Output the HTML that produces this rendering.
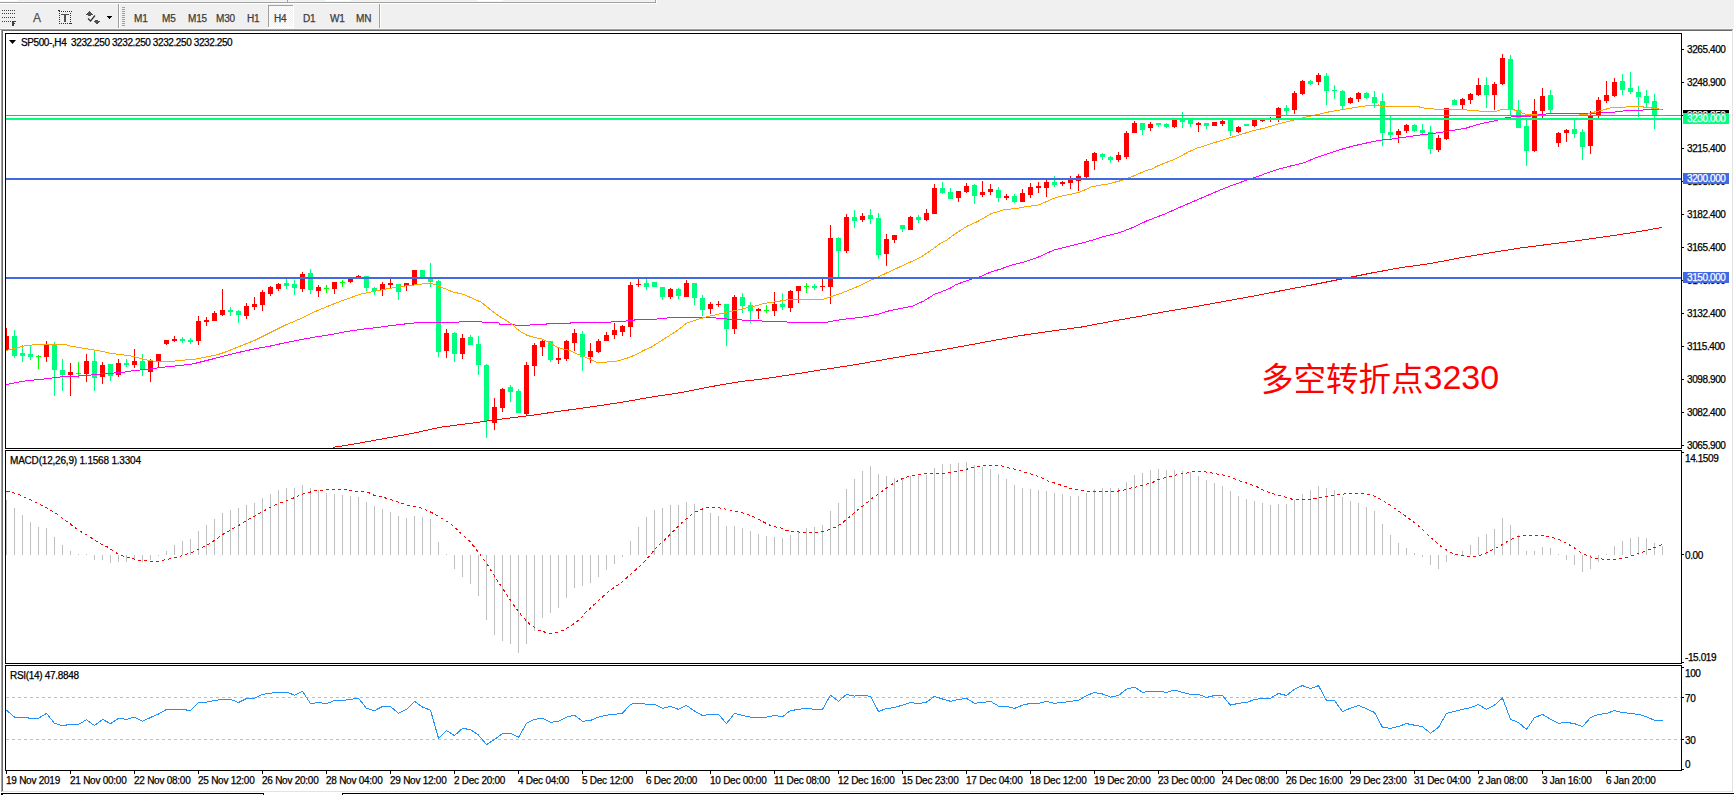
<!DOCTYPE html>
<html><head><meta charset="utf-8"><title>SP500 H4</title>
<style>
*{margin:0;padding:0;box-sizing:border-box}
html,body{width:1734px;height:795px;overflow:hidden;background:#f0f0f0}
body{position:relative;font-family:"Liberation Sans","Noto Sans CJK SC",sans-serif}
.t{position:absolute;white-space:pre;font-size:10px;line-height:10px;color:#000;-webkit-text-stroke:0.25px currentColor}
.n{letter-spacing:-0.4px}
.tb{position:absolute;white-space:pre;font-size:10px;line-height:10px;color:#3c3c3c;letter-spacing:-0.2px;-webkit-text-stroke:0.25px currentColor}
svg{position:absolute;left:0;top:0}
</style></head><body>

<svg width="1734" height="795" viewBox="0 0 1734 795" shape-rendering="crispEdges">
<rect x="0" y="0" width="18" height="1" fill="#ffffff"/>
<rect x="0" y="1" width="655" height="1" fill="#f5f5f5"/>
<rect x="325" y="0" width="26" height="1" fill="#ffffff"/><rect x="477" y="0" width="26" height="1" fill="#ffffff"/>
<rect x="287" y="0" width="1" height="2" fill="#a0a0a0"/>
<rect x="0" y="2" width="656" height="1" fill="#a0a0a0"/>
<rect x="655" y="0" width="1" height="3" fill="#a0a0a0"/>
<rect x="0" y="3" width="657" height="1" fill="#ffffff"/>
<rect x="656" y="0" width="1" height="4" fill="#ffffff"/>
<rect x="0" y="28" width="1734" height="1" fill="#f8f8f8"/>
<rect x="2" y="10" width="1" height="1" fill="#404040"/>
<rect x="4" y="10" width="1" height="1" fill="#404040"/>
<rect x="6" y="10" width="1" height="1" fill="#404040"/>
<rect x="8" y="10" width="1" height="1" fill="#404040"/>
<rect x="10" y="10" width="1" height="1" fill="#404040"/>
<rect x="12" y="10" width="1" height="1" fill="#404040"/>
<rect x="14" y="10" width="1" height="1" fill="#404040"/>
<rect x="2" y="13" width="1" height="1" fill="#404040"/>
<rect x="4" y="13" width="1" height="1" fill="#404040"/>
<rect x="6" y="13" width="1" height="1" fill="#404040"/>
<rect x="8" y="13" width="1" height="1" fill="#404040"/>
<rect x="10" y="13" width="1" height="1" fill="#404040"/>
<rect x="12" y="13" width="1" height="1" fill="#404040"/>
<rect x="14" y="13" width="1" height="1" fill="#404040"/>
<rect x="2" y="17" width="1" height="1" fill="#404040"/>
<rect x="4" y="17" width="1" height="1" fill="#404040"/>
<rect x="6" y="17" width="1" height="1" fill="#404040"/>
<rect x="8" y="17" width="1" height="1" fill="#404040"/>
<rect x="10" y="17" width="1" height="1" fill="#404040"/>
<rect x="12" y="17" width="1" height="1" fill="#404040"/>
<rect x="14" y="17" width="1" height="1" fill="#404040"/>
<rect x="2" y="21" width="1" height="1" fill="#404040"/>
<rect x="4" y="21" width="1" height="1" fill="#404040"/>
<rect x="6" y="21" width="1" height="1" fill="#404040"/>
<rect x="8" y="21" width="1" height="1" fill="#404040"/>
<rect x="10" y="21" width="1" height="1" fill="#404040"/>
<rect x="12" y="21" width="1" height="5" fill="#404040"/><rect x="12" y="21" width="4" height="1" fill="#404040"/><rect x="12" y="23" width="3" height="1" fill="#404040"/>
<rect x="13" y="21" width="1" height="5" fill="#404040"/>
<rect x="59" y="11" width="1" height="1" fill="#303030"/>
<rect x="59" y="23" width="1" height="1" fill="#303030"/>
<rect x="61" y="11" width="1" height="1" fill="#303030"/>
<rect x="61" y="23" width="1" height="1" fill="#303030"/>
<rect x="63" y="11" width="1" height="1" fill="#303030"/>
<rect x="63" y="23" width="1" height="1" fill="#303030"/>
<rect x="65" y="11" width="1" height="1" fill="#303030"/>
<rect x="65" y="23" width="1" height="1" fill="#303030"/>
<rect x="67" y="11" width="1" height="1" fill="#303030"/>
<rect x="67" y="23" width="1" height="1" fill="#303030"/>
<rect x="69" y="11" width="1" height="1" fill="#303030"/>
<rect x="69" y="23" width="1" height="1" fill="#303030"/>
<rect x="71" y="11" width="1" height="1" fill="#303030"/>
<rect x="71" y="23" width="1" height="1" fill="#303030"/>
<rect x="59" y="13" width="1" height="1" fill="#303030"/>
<rect x="70" y="13" width="1" height="1" fill="#303030"/>
<rect x="59" y="15" width="1" height="1" fill="#303030"/>
<rect x="70" y="15" width="1" height="1" fill="#303030"/>
<rect x="59" y="17" width="1" height="1" fill="#303030"/>
<rect x="70" y="17" width="1" height="1" fill="#303030"/>
<rect x="59" y="19" width="1" height="1" fill="#303030"/>
<rect x="70" y="19" width="1" height="1" fill="#303030"/>
<rect x="59" y="21" width="1" height="1" fill="#303030"/>
<rect x="70" y="21" width="1" height="1" fill="#303030"/>
<rect x="59" y="23" width="1" height="1" fill="#303030"/>
<rect x="70" y="23" width="1" height="1" fill="#303030"/>
<rect x="58" y="10" width="2" height="1" fill="#303030"/>
<rect x="61" y="14" width="8" height="1" fill="#505050"/><rect x="64" y="14" width="2" height="8" fill="#505050"/>
<polygon points="86,15 89.5,11 93,15" fill="#505050"/><rect x="88" y="15" width="3" height="1" fill="#505050"/>
<polyline points="88,18.5 90.5,21 95,15.5" fill="none" stroke="#303030" stroke-width="1.2" shape-rendering="auto"/>
<polygon points="93,21 100,21 96.5,24.5" fill="#505050"/><rect x="95" y="20" width="3" height="1" fill="#505050"/>
<polygon points="107,16 112,16 109.5,19" fill="#000"/>
<rect x="118" y="4" width="1" height="24" fill="#a0a0a0"/><rect x="119" y="4" width="1" height="24" fill="#ffffff"/>
<rect x="122" y="7" width="3" height="1" fill="#a0a0a0"/>
<rect x="122" y="9" width="3" height="1" fill="#a0a0a0"/>
<rect x="122" y="11" width="3" height="1" fill="#a0a0a0"/>
<rect x="122" y="13" width="3" height="1" fill="#a0a0a0"/>
<rect x="122" y="15" width="3" height="1" fill="#a0a0a0"/>
<rect x="122" y="17" width="3" height="1" fill="#a0a0a0"/>
<rect x="122" y="19" width="3" height="1" fill="#a0a0a0"/>
<rect x="122" y="21" width="3" height="1" fill="#a0a0a0"/>
<rect x="122" y="23" width="3" height="1" fill="#a0a0a0"/>
<rect x="122" y="25" width="3" height="1" fill="#a0a0a0"/>
<rect x="379" y="4" width="1" height="24" fill="#a0a0a0"/><rect x="380" y="4" width="1" height="24" fill="#ffffff"/>
<defs><pattern id="dith" x="0" y="0" width="2" height="2" patternUnits="userSpaceOnUse"><rect width="2" height="2" fill="#f0f0f0"/><rect width="1" height="1" fill="#ffffff"/><rect x="1" y="1" width="1" height="1" fill="#ffffff"/></pattern></defs>
<rect x="269" y="6" width="24" height="21" fill="url(#dith)"/>
<rect x="268" y="5" width="25" height="1" fill="#a0a0a0"/><rect x="268" y="5" width="1" height="22" fill="#a0a0a0"/>
<rect x="268" y="27" width="26" height="1" fill="#ffffff"/><rect x="293" y="5" width="1" height="23" fill="#ffffff"/>
<rect x="0" y="29" width="1734" height="766" fill="#f0f0f0"/>
<rect x="3" y="31" width="1729" height="760" fill="#ffffff"/>
<rect x="0" y="29" width="1733" height="1" fill="#a0a0a0"/>
<rect x="1" y="30" width="1731" height="1" fill="#696969"/>
<rect x="0" y="30" width="1" height="765" fill="#ffffff"/>
<rect x="1" y="30" width="1" height="762" fill="#a0a0a0"/>
<rect x="2" y="31" width="1" height="760" fill="#696969"/>
<rect x="1732" y="30" width="1" height="762" fill="#e3e3e3"/>
<rect x="1733" y="29" width="1" height="764" fill="#ffffff"/>
<rect x="2" y="791" width="1731" height="1" fill="#e3e3e3"/>
<rect x="0" y="792" width="1734" height="3" fill="#ffffff"/>
<rect x="1" y="793" width="263" height="1" fill="#000"/><rect x="1" y="793" width="2" height="2" fill="#000"/><rect x="263" y="793" width="1" height="2" fill="#000"/>
<rect x="342" y="793" width="1392" height="1" fill="#000"/><rect x="342" y="793" width="1" height="2" fill="#000"/>
<rect x="5" y="33" width="1677" height="1" fill="#000"/>
<rect x="5" y="448" width="1677" height="1" fill="#000"/>
<rect x="5" y="33" width="1" height="416" fill="#000"/>
<rect x="1681" y="33" width="1" height="416" fill="#000"/>
<rect x="5" y="450" width="1677" height="1" fill="#000"/>
<rect x="5" y="663" width="1677" height="1" fill="#000"/>
<rect x="5" y="450" width="1" height="214" fill="#000"/>
<rect x="1681" y="450" width="1" height="214" fill="#000"/>
<rect x="5" y="665" width="1677" height="1" fill="#000"/>
<rect x="5" y="770" width="1677" height="1" fill="#000"/>
<rect x="5" y="665" width="1" height="106" fill="#000"/>
<rect x="1681" y="665" width="1" height="106" fill="#000"/>
<rect x="1681" y="49" width="3" height="1" fill="#000"/>
<rect x="1681" y="82" width="3" height="1" fill="#000"/>
<rect x="1681" y="115" width="3" height="1" fill="#000"/>
<rect x="1681" y="148" width="3" height="1" fill="#000"/>
<rect x="1681" y="181" width="3" height="1" fill="#000"/>
<rect x="1681" y="214" width="3" height="1" fill="#000"/>
<rect x="1681" y="247" width="3" height="1" fill="#000"/>
<rect x="1681" y="280" width="3" height="1" fill="#000"/>
<rect x="1681" y="313" width="3" height="1" fill="#000"/>
<rect x="1681" y="346" width="3" height="1" fill="#000"/>
<rect x="1681" y="379" width="3" height="1" fill="#000"/>
<rect x="1681" y="412" width="3" height="1" fill="#000"/>
<rect x="1681" y="445" width="3" height="1" fill="#000"/>
<rect x="1681" y="452" width="3" height="1" fill="#000"/>
<rect x="1681" y="554" width="3" height="1" fill="#000"/>
<rect x="1681" y="662" width="3" height="1" fill="#000"/>
<rect x="1681" y="667" width="3" height="1" fill="#000"/>
<rect x="1681" y="697" width="3" height="1" fill="#000"/>
<rect x="1681" y="739" width="3" height="1" fill="#000"/>
<rect x="1681" y="769" width="3" height="1" fill="#000"/>
<rect x="6" y="770" width="1" height="4" fill="#000"/>
<rect x="70" y="770" width="1" height="4" fill="#000"/>
<rect x="134" y="770" width="1" height="4" fill="#000"/>
<rect x="198" y="770" width="1" height="4" fill="#000"/>
<rect x="262" y="770" width="1" height="4" fill="#000"/>
<rect x="326" y="770" width="1" height="4" fill="#000"/>
<rect x="390" y="770" width="1" height="4" fill="#000"/>
<rect x="454" y="770" width="1" height="4" fill="#000"/>
<rect x="518" y="770" width="1" height="4" fill="#000"/>
<rect x="582" y="770" width="1" height="4" fill="#000"/>
<rect x="646" y="770" width="1" height="4" fill="#000"/>
<rect x="710" y="770" width="1" height="4" fill="#000"/>
<rect x="774" y="770" width="1" height="4" fill="#000"/>
<rect x="838" y="770" width="1" height="4" fill="#000"/>
<rect x="902" y="770" width="1" height="4" fill="#000"/>
<rect x="966" y="770" width="1" height="4" fill="#000"/>
<rect x="1030" y="770" width="1" height="4" fill="#000"/>
<rect x="1094" y="770" width="1" height="4" fill="#000"/>
<rect x="1158" y="770" width="1" height="4" fill="#000"/>
<rect x="1222" y="770" width="1" height="4" fill="#000"/>
<rect x="1286" y="770" width="1" height="4" fill="#000"/>
<rect x="1350" y="770" width="1" height="4" fill="#000"/>
<rect x="1414" y="770" width="1" height="4" fill="#000"/>
<rect x="1478" y="770" width="1" height="4" fill="#000"/>
<rect x="1542" y="770" width="1" height="4" fill="#000"/>
<rect x="1606" y="770" width="1" height="4" fill="#000"/>
<defs><clipPath id="cm"><rect x="6" y="34" width="1675" height="414"/></clipPath><clipPath id="cd"><rect x="6" y="451" width="1675" height="212"/></clipPath><clipPath id="cr"><rect x="6" y="666" width="1675" height="104"/></clipPath></defs>
<g clip-path="url(#cm)">
<rect x="6" y="328" width="1" height="23" fill="#ff0000"/><rect x="4" y="336" width="5" height="14" fill="#ff0000"/><rect x="14" y="330" width="1" height="28" fill="#00ff7f"/><rect x="12" y="336" width="5" height="20" fill="#00ff7f"/><rect x="22" y="345" width="1" height="17" fill="#00ff7f"/><rect x="20" y="353" width="5" height="3" fill="#00ff7f"/><rect x="30" y="346" width="1" height="14" fill="#00ff7f"/><rect x="28" y="354" width="5" height="3" fill="#00ff7f"/><rect x="38" y="355" width="1" height="14" fill="#00ff00"/><rect x="36" y="356" width="5" height="1" fill="#00ff00"/><rect x="46" y="341" width="1" height="21" fill="#ff0000"/><rect x="44" y="345" width="5" height="12" fill="#ff0000"/><rect x="54" y="342" width="1" height="54" fill="#00ff7f"/><rect x="52" y="345" width="5" height="25" fill="#00ff7f"/><rect x="62" y="359" width="1" height="32" fill="#00ff7f"/><rect x="60" y="370" width="5" height="5" fill="#00ff7f"/><rect x="70" y="363" width="1" height="33" fill="#ff0000"/><rect x="68" y="372" width="5" height="3" fill="#ff0000"/><rect x="78" y="362" width="1" height="16" fill="#00ff00"/><rect x="76" y="373" width="5" height="1" fill="#00ff00"/><rect x="86" y="354" width="1" height="28" fill="#ff0000"/><rect x="84" y="361" width="5" height="13" fill="#ff0000"/><rect x="94" y="350" width="1" height="41" fill="#00ff7f"/><rect x="92" y="361" width="5" height="17" fill="#00ff7f"/><rect x="102" y="362" width="1" height="22" fill="#ff0000"/><rect x="100" y="365" width="5" height="12" fill="#ff0000"/><rect x="110" y="364" width="1" height="17" fill="#00ff7f"/><rect x="108" y="364" width="5" height="12" fill="#00ff7f"/><rect x="118" y="359" width="1" height="18" fill="#ff0000"/><rect x="116" y="363" width="5" height="12" fill="#ff0000"/><rect x="126" y="359" width="1" height="8" fill="#00ff7f"/><rect x="124" y="363" width="5" height="2" fill="#00ff7f"/><rect x="134" y="349" width="1" height="19" fill="#ff0000"/><rect x="132" y="361" width="5" height="4" fill="#ff0000"/><rect x="142" y="354" width="1" height="22" fill="#00ff7f"/><rect x="140" y="361" width="5" height="9" fill="#00ff7f"/><rect x="150" y="359" width="1" height="23" fill="#ff0000"/><rect x="148" y="361" width="5" height="11" fill="#ff0000"/><rect x="158" y="354" width="1" height="13" fill="#ff0000"/><rect x="156" y="354" width="5" height="7" fill="#ff0000"/><rect x="166" y="340" width="1" height="5" fill="#ff0000"/><rect x="164" y="340" width="5" height="4" fill="#ff0000"/><rect x="174" y="336" width="1" height="6" fill="#ff0000"/><rect x="172" y="339" width="5" height="2" fill="#ff0000"/><rect x="182" y="337" width="1" height="6" fill="#00ff7f"/><rect x="180" y="339" width="5" height="2" fill="#00ff7f"/><rect x="190" y="338" width="1" height="6" fill="#00ff7f"/><rect x="188" y="340" width="5" height="2" fill="#00ff7f"/><rect x="198" y="316" width="1" height="29" fill="#ff0000"/><rect x="196" y="321" width="5" height="20" fill="#ff0000"/><rect x="206" y="317" width="1" height="9" fill="#ff0000"/><rect x="204" y="320" width="5" height="2" fill="#ff0000"/><rect x="214" y="311" width="1" height="10" fill="#ff0000"/><rect x="212" y="313" width="5" height="8" fill="#ff0000"/><rect x="222" y="289" width="1" height="27" fill="#ff0000"/><rect x="220" y="310" width="5" height="5" fill="#ff0000"/><rect x="230" y="307" width="1" height="9" fill="#00ff7f"/><rect x="228" y="310" width="5" height="2" fill="#00ff7f"/><rect x="238" y="310" width="1" height="13" fill="#00ff7f"/><rect x="236" y="311" width="5" height="4" fill="#00ff7f"/><rect x="246" y="303" width="1" height="16" fill="#ff0000"/><rect x="244" y="306" width="5" height="10" fill="#ff0000"/><rect x="254" y="297" width="1" height="13" fill="#ff0000"/><rect x="252" y="304" width="5" height="3" fill="#ff0000"/><rect x="262" y="290" width="1" height="21" fill="#ff0000"/><rect x="260" y="292" width="5" height="13" fill="#ff0000"/><rect x="270" y="286" width="1" height="10" fill="#ff0000"/><rect x="268" y="287" width="5" height="7" fill="#ff0000"/><rect x="278" y="283" width="1" height="8" fill="#ff0000"/><rect x="276" y="284" width="5" height="5" fill="#ff0000"/><rect x="286" y="279" width="1" height="10" fill="#00ff7f"/><rect x="284" y="283" width="5" height="3" fill="#00ff7f"/><rect x="294" y="280" width="1" height="15" fill="#00ff7f"/><rect x="292" y="284" width="5" height="4" fill="#00ff7f"/><rect x="302" y="272" width="1" height="20" fill="#ff0000"/><rect x="300" y="274" width="5" height="15" fill="#ff0000"/><rect x="310" y="269" width="1" height="25" fill="#00ff7f"/><rect x="308" y="273" width="5" height="17" fill="#00ff7f"/><rect x="318" y="285" width="1" height="12" fill="#ff0000"/><rect x="316" y="287" width="5" height="4" fill="#ff0000"/><rect x="326" y="285" width="1" height="8" fill="#00ff00"/><rect x="324" y="288" width="5" height="1" fill="#00ff00"/><rect x="334" y="282" width="1" height="12" fill="#ff0000"/><rect x="332" y="282" width="5" height="7" fill="#ff0000"/><rect x="342" y="280" width="1" height="7" fill="#00ff00"/><rect x="340" y="282" width="5" height="1" fill="#00ff00"/><rect x="350" y="277" width="1" height="6" fill="#ff0000"/><rect x="348" y="279" width="5" height="3" fill="#ff0000"/><rect x="358" y="275" width="1" height="3" fill="#ff0000"/><rect x="356" y="276" width="5" height="2" fill="#ff0000"/><rect x="366" y="276" width="1" height="15" fill="#00ff7f"/><rect x="364" y="276" width="5" height="12" fill="#00ff7f"/><rect x="374" y="287" width="1" height="8" fill="#00ff7f"/><rect x="372" y="288" width="5" height="3" fill="#00ff7f"/><rect x="382" y="282" width="1" height="14" fill="#ff0000"/><rect x="380" y="284" width="5" height="6" fill="#ff0000"/><rect x="390" y="279" width="1" height="10" fill="#ff0000"/><rect x="388" y="283" width="5" height="2" fill="#ff0000"/><rect x="398" y="284" width="1" height="16" fill="#00ff7f"/><rect x="396" y="284" width="5" height="8" fill="#00ff7f"/><rect x="406" y="283" width="1" height="8" fill="#ff0000"/><rect x="404" y="283" width="5" height="3" fill="#ff0000"/><rect x="414" y="270" width="1" height="15" fill="#ff0000"/><rect x="412" y="270" width="5" height="15" fill="#ff0000"/><rect x="422" y="270" width="1" height="8" fill="#00ff7f"/><rect x="420" y="270" width="5" height="8" fill="#00ff7f"/><rect x="430" y="263" width="1" height="24" fill="#00ff7f"/><rect x="428" y="278" width="5" height="4" fill="#00ff7f"/><rect x="438" y="280" width="1" height="77" fill="#00ff7f"/><rect x="436" y="281" width="5" height="71" fill="#00ff7f"/><rect x="446" y="329" width="1" height="29" fill="#ff0000"/><rect x="444" y="333" width="5" height="18" fill="#ff0000"/><rect x="454" y="332" width="1" height="30" fill="#00ff7f"/><rect x="452" y="333" width="5" height="21" fill="#00ff7f"/><rect x="462" y="334" width="1" height="25" fill="#ff0000"/><rect x="460" y="338" width="5" height="16" fill="#ff0000"/><rect x="470" y="335" width="1" height="10" fill="#00ff7f"/><rect x="468" y="337" width="5" height="8" fill="#00ff7f"/><rect x="478" y="336" width="1" height="39" fill="#00ff7f"/><rect x="476" y="344" width="5" height="21" fill="#00ff7f"/><rect x="486" y="364" width="1" height="74" fill="#00ff7f"/><rect x="484" y="365" width="5" height="56" fill="#00ff7f"/><rect x="494" y="398" width="1" height="32" fill="#ff0000"/><rect x="492" y="407" width="5" height="16" fill="#ff0000"/><rect x="502" y="388" width="1" height="24" fill="#ff0000"/><rect x="500" y="389" width="5" height="19" fill="#ff0000"/><rect x="510" y="385" width="1" height="17" fill="#00ff7f"/><rect x="508" y="387" width="5" height="5" fill="#00ff7f"/><rect x="518" y="389" width="1" height="24" fill="#00ff7f"/><rect x="516" y="391" width="5" height="22" fill="#00ff7f"/><rect x="526" y="362" width="1" height="53" fill="#ff0000"/><rect x="524" y="365" width="5" height="49" fill="#ff0000"/><rect x="534" y="343" width="1" height="33" fill="#ff0000"/><rect x="532" y="345" width="5" height="21" fill="#ff0000"/><rect x="542" y="340" width="1" height="16" fill="#ff0000"/><rect x="540" y="341" width="5" height="6" fill="#ff0000"/><rect x="550" y="341" width="1" height="21" fill="#00ff7f"/><rect x="548" y="341" width="5" height="19" fill="#00ff7f"/><rect x="558" y="348" width="1" height="16" fill="#ff0000"/><rect x="556" y="358" width="5" height="2" fill="#ff0000"/><rect x="566" y="340" width="1" height="21" fill="#ff0000"/><rect x="564" y="341" width="5" height="18" fill="#ff0000"/><rect x="574" y="329" width="1" height="22" fill="#ff0000"/><rect x="572" y="333" width="5" height="10" fill="#ff0000"/><rect x="582" y="331" width="1" height="40" fill="#00ff7f"/><rect x="580" y="334" width="5" height="23" fill="#00ff7f"/><rect x="590" y="343" width="1" height="20" fill="#ff0000"/><rect x="588" y="351" width="5" height="6" fill="#ff0000"/><rect x="598" y="339" width="1" height="14" fill="#ff0000"/><rect x="596" y="341" width="5" height="11" fill="#ff0000"/><rect x="606" y="332" width="1" height="9" fill="#ff0000"/><rect x="604" y="335" width="5" height="6" fill="#ff0000"/><rect x="614" y="323" width="1" height="16" fill="#ff0000"/><rect x="612" y="330" width="5" height="5" fill="#ff0000"/><rect x="622" y="325" width="1" height="11" fill="#ff0000"/><rect x="620" y="326" width="5" height="6" fill="#ff0000"/><rect x="630" y="282" width="1" height="55" fill="#ff0000"/><rect x="628" y="285" width="5" height="42" fill="#ff0000"/><rect x="638" y="279" width="1" height="8" fill="#ff0000"/><rect x="636" y="284" width="5" height="1" fill="#ff0000"/><rect x="646" y="279" width="1" height="11" fill="#00ff7f"/><rect x="644" y="283" width="5" height="4" fill="#00ff7f"/><rect x="654" y="282" width="1" height="5" fill="#00ff7f"/><rect x="652" y="282" width="5" height="5" fill="#00ff7f"/><rect x="662" y="287" width="1" height="13" fill="#00ff7f"/><rect x="660" y="287" width="5" height="10" fill="#00ff7f"/><rect x="670" y="288" width="1" height="11" fill="#ff0000"/><rect x="668" y="289" width="5" height="8" fill="#ff0000"/><rect x="678" y="288" width="1" height="11" fill="#00ff7f"/><rect x="676" y="289" width="5" height="7" fill="#00ff7f"/><rect x="686" y="280" width="1" height="17" fill="#ff0000"/><rect x="684" y="283" width="5" height="14" fill="#ff0000"/><rect x="694" y="283" width="1" height="22" fill="#00ff7f"/><rect x="692" y="283" width="5" height="15" fill="#00ff7f"/><rect x="702" y="295" width="1" height="21" fill="#00ff7f"/><rect x="700" y="298" width="5" height="12" fill="#00ff7f"/><rect x="710" y="302" width="1" height="12" fill="#ff0000"/><rect x="708" y="304" width="5" height="5" fill="#ff0000"/><rect x="718" y="301" width="1" height="6" fill="#ff0000"/><rect x="716" y="304" width="5" height="1" fill="#ff0000"/><rect x="726" y="304" width="1" height="42" fill="#00ff7f"/><rect x="724" y="304" width="5" height="25" fill="#00ff7f"/><rect x="734" y="295" width="1" height="39" fill="#ff0000"/><rect x="732" y="297" width="5" height="32" fill="#ff0000"/><rect x="742" y="293" width="1" height="20" fill="#00ff7f"/><rect x="740" y="297" width="5" height="9" fill="#00ff7f"/><rect x="750" y="302" width="1" height="21" fill="#00ff7f"/><rect x="748" y="305" width="5" height="6" fill="#00ff7f"/><rect x="758" y="308" width="1" height="11" fill="#ff0000"/><rect x="756" y="309" width="5" height="2" fill="#ff0000"/><rect x="766" y="305" width="1" height="8" fill="#00ff00"/><rect x="764" y="310" width="5" height="1" fill="#00ff00"/><rect x="774" y="292" width="1" height="24" fill="#ff0000"/><rect x="772" y="304" width="5" height="7" fill="#ff0000"/><rect x="782" y="293" width="1" height="17" fill="#00ff7f"/><rect x="780" y="304" width="5" height="3" fill="#00ff7f"/><rect x="790" y="290" width="1" height="22" fill="#ff0000"/><rect x="788" y="291" width="5" height="17" fill="#ff0000"/><rect x="798" y="286" width="1" height="17" fill="#ff0000"/><rect x="796" y="286" width="5" height="5" fill="#ff0000"/><rect x="806" y="283" width="1" height="10" fill="#00ff00"/><rect x="804" y="286" width="5" height="1" fill="#00ff00"/><rect x="814" y="284" width="1" height="6" fill="#00ff7f"/><rect x="812" y="286" width="5" height="2" fill="#00ff7f"/><rect x="822" y="279" width="1" height="12" fill="#ff0000"/><rect x="820" y="286" width="5" height="1" fill="#ff0000"/><rect x="830" y="225" width="1" height="79" fill="#ff0000"/><rect x="828" y="238" width="5" height="49" fill="#ff0000"/><rect x="838" y="237" width="1" height="40" fill="#00ff7f"/><rect x="836" y="238" width="5" height="13" fill="#00ff7f"/><rect x="846" y="214" width="1" height="39" fill="#ff0000"/><rect x="844" y="217" width="5" height="34" fill="#ff0000"/><rect x="854" y="210" width="1" height="18" fill="#00ff7f"/><rect x="852" y="217" width="5" height="4" fill="#00ff7f"/><rect x="862" y="213" width="1" height="9" fill="#ff0000"/><rect x="860" y="216" width="5" height="4" fill="#ff0000"/><rect x="870" y="209" width="1" height="15" fill="#00ff7f"/><rect x="868" y="215" width="5" height="4" fill="#00ff7f"/><rect x="878" y="213" width="1" height="46" fill="#00ff7f"/><rect x="876" y="218" width="5" height="37" fill="#00ff7f"/><rect x="886" y="234" width="1" height="32" fill="#ff0000"/><rect x="884" y="239" width="5" height="15" fill="#ff0000"/><rect x="894" y="235" width="1" height="8" fill="#ff0000"/><rect x="892" y="235" width="5" height="5" fill="#ff0000"/><rect x="902" y="225" width="1" height="7" fill="#00ff7f"/><rect x="900" y="225" width="5" height="4" fill="#00ff7f"/><rect x="910" y="216" width="1" height="14" fill="#ff0000"/><rect x="908" y="217" width="5" height="13" fill="#ff0000"/><rect x="918" y="215" width="1" height="8" fill="#00ff7f"/><rect x="916" y="217" width="5" height="3" fill="#00ff7f"/><rect x="926" y="209" width="1" height="12" fill="#ff0000"/><rect x="924" y="213" width="5" height="7" fill="#ff0000"/><rect x="934" y="184" width="1" height="30" fill="#ff0000"/><rect x="932" y="188" width="5" height="26" fill="#ff0000"/><rect x="942" y="182" width="1" height="12" fill="#00ff7f"/><rect x="940" y="188" width="5" height="5" fill="#00ff7f"/><rect x="950" y="188" width="1" height="11" fill="#00ff7f"/><rect x="948" y="192" width="5" height="7" fill="#00ff7f"/><rect x="958" y="191" width="1" height="11" fill="#ff0000"/><rect x="956" y="191" width="5" height="7" fill="#ff0000"/><rect x="966" y="183" width="1" height="10" fill="#ff0000"/><rect x="964" y="186" width="5" height="6" fill="#ff0000"/><rect x="974" y="184" width="1" height="20" fill="#00ff7f"/><rect x="972" y="185" width="5" height="11" fill="#00ff7f"/><rect x="982" y="181" width="1" height="16" fill="#ff0000"/><rect x="980" y="192" width="5" height="3" fill="#ff0000"/><rect x="990" y="184" width="1" height="11" fill="#ff0000"/><rect x="988" y="189" width="5" height="3" fill="#ff0000"/><rect x="998" y="187" width="1" height="15" fill="#00ff7f"/><rect x="996" y="190" width="5" height="8" fill="#00ff7f"/><rect x="1006" y="194" width="1" height="6" fill="#ff0000"/><rect x="1004" y="196" width="5" height="2" fill="#ff0000"/><rect x="1014" y="194" width="1" height="9" fill="#00ff7f"/><rect x="1012" y="196" width="5" height="6" fill="#00ff7f"/><rect x="1022" y="189" width="1" height="13" fill="#ff0000"/><rect x="1020" y="193" width="5" height="9" fill="#ff0000"/><rect x="1030" y="183" width="1" height="15" fill="#ff0000"/><rect x="1028" y="187" width="5" height="8" fill="#ff0000"/><rect x="1038" y="182" width="1" height="11" fill="#ff0000"/><rect x="1036" y="186" width="5" height="2" fill="#ff0000"/><rect x="1046" y="180" width="1" height="17" fill="#ff0000"/><rect x="1044" y="182" width="5" height="6" fill="#ff0000"/><rect x="1054" y="176" width="1" height="11" fill="#00ff7f"/><rect x="1052" y="182" width="5" height="3" fill="#00ff7f"/><rect x="1062" y="181" width="1" height="5" fill="#ff0000"/><rect x="1060" y="182" width="5" height="2" fill="#ff0000"/><rect x="1070" y="176" width="1" height="13" fill="#ff0000"/><rect x="1068" y="178" width="5" height="5" fill="#ff0000"/><rect x="1078" y="174" width="1" height="17" fill="#ff0000"/><rect x="1076" y="176" width="5" height="5" fill="#ff0000"/><rect x="1086" y="159" width="1" height="19" fill="#ff0000"/><rect x="1084" y="161" width="5" height="16" fill="#ff0000"/><rect x="1094" y="152" width="1" height="18" fill="#ff0000"/><rect x="1092" y="153" width="5" height="8" fill="#ff0000"/><rect x="1102" y="153" width="1" height="7" fill="#00ff7f"/><rect x="1100" y="154" width="5" height="3" fill="#00ff7f"/><rect x="1110" y="156" width="1" height="7" fill="#00ff7f"/><rect x="1108" y="157" width="5" height="3" fill="#00ff7f"/><rect x="1118" y="152" width="1" height="10" fill="#ff0000"/><rect x="1116" y="155" width="5" height="5" fill="#ff0000"/><rect x="1126" y="131" width="1" height="28" fill="#ff0000"/><rect x="1124" y="133" width="5" height="24" fill="#ff0000"/><rect x="1134" y="121" width="1" height="12" fill="#ff0000"/><rect x="1132" y="123" width="5" height="10" fill="#ff0000"/><rect x="1142" y="123" width="1" height="12" fill="#00ff7f"/><rect x="1140" y="123" width="5" height="7" fill="#00ff7f"/><rect x="1150" y="122" width="1" height="9" fill="#ff0000"/><rect x="1148" y="124" width="5" height="4" fill="#ff0000"/><rect x="1158" y="123" width="1" height="4" fill="#00ff7f"/><rect x="1156" y="123" width="5" height="2" fill="#00ff7f"/><rect x="1166" y="123" width="1" height="5" fill="#00ff7f"/><rect x="1164" y="124" width="5" height="3" fill="#00ff7f"/><rect x="1174" y="120" width="1" height="8" fill="#ff0000"/><rect x="1172" y="120" width="5" height="7" fill="#ff0000"/><rect x="1182" y="112" width="1" height="16" fill="#00ff7f"/><rect x="1180" y="119" width="5" height="3" fill="#00ff7f"/><rect x="1190" y="119" width="1" height="8" fill="#00ff7f"/><rect x="1188" y="120" width="5" height="4" fill="#00ff7f"/><rect x="1198" y="122" width="1" height="10" fill="#ff0000"/><rect x="1196" y="123" width="5" height="2" fill="#ff0000"/><rect x="1206" y="123" width="1" height="6" fill="#00ff7f"/><rect x="1204" y="123" width="5" height="3" fill="#00ff7f"/><rect x="1214" y="122" width="1" height="4" fill="#ff0000"/><rect x="1212" y="122" width="5" height="4" fill="#ff0000"/><rect x="1222" y="120" width="1" height="6" fill="#ff0000"/><rect x="1220" y="121" width="5" height="3" fill="#ff0000"/><rect x="1230" y="119" width="1" height="17" fill="#00ff7f"/><rect x="1228" y="119" width="5" height="12" fill="#00ff7f"/><rect x="1238" y="126" width="1" height="7" fill="#ff0000"/><rect x="1236" y="127" width="5" height="5" fill="#ff0000"/><rect x="1246" y="124" width="1" height="2" fill="#00ff7f"/><rect x="1244" y="124" width="5" height="2" fill="#00ff7f"/><rect x="1254" y="119" width="1" height="8" fill="#ff0000"/><rect x="1252" y="119" width="5" height="7" fill="#ff0000"/><rect x="1262" y="119" width="1" height="3" fill="#ff0000"/><rect x="1260" y="119" width="5" height="2" fill="#ff0000"/><rect x="1270" y="117" width="1" height="5" fill="#ff0000"/><rect x="1268" y="118" width="5" height="2" fill="#ff0000"/><rect x="1278" y="107" width="1" height="15" fill="#ff0000"/><rect x="1276" y="108" width="5" height="10" fill="#ff0000"/><rect x="1286" y="105" width="1" height="10" fill="#00ff7f"/><rect x="1284" y="108" width="5" height="3" fill="#00ff7f"/><rect x="1294" y="91" width="1" height="23" fill="#ff0000"/><rect x="1292" y="93" width="5" height="17" fill="#ff0000"/><rect x="1302" y="80" width="1" height="15" fill="#ff0000"/><rect x="1300" y="81" width="5" height="13" fill="#ff0000"/><rect x="1310" y="80" width="1" height="5" fill="#00ff7f"/><rect x="1308" y="81" width="5" height="3" fill="#00ff7f"/><rect x="1318" y="73" width="1" height="12" fill="#ff0000"/><rect x="1316" y="75" width="5" height="7" fill="#ff0000"/><rect x="1326" y="73" width="1" height="32" fill="#00ff7f"/><rect x="1324" y="76" width="5" height="15" fill="#00ff7f"/><rect x="1334" y="85" width="1" height="14" fill="#00ff7f"/><rect x="1332" y="90" width="5" height="1" fill="#00ff7f"/><rect x="1342" y="90" width="1" height="20" fill="#00ff7f"/><rect x="1340" y="91" width="5" height="15" fill="#00ff7f"/><rect x="1350" y="97" width="1" height="7" fill="#ff0000"/><rect x="1348" y="98" width="5" height="5" fill="#ff0000"/><rect x="1358" y="92" width="1" height="10" fill="#ff0000"/><rect x="1356" y="93" width="5" height="6" fill="#ff0000"/><rect x="1366" y="92" width="1" height="7" fill="#00ff7f"/><rect x="1364" y="93" width="5" height="5" fill="#00ff7f"/><rect x="1374" y="91" width="1" height="17" fill="#00ff7f"/><rect x="1372" y="97" width="5" height="6" fill="#00ff7f"/><rect x="1382" y="93" width="1" height="53" fill="#00ff7f"/><rect x="1380" y="101" width="5" height="32" fill="#00ff7f"/><rect x="1390" y="116" width="1" height="23" fill="#00ff7f"/><rect x="1388" y="132" width="5" height="3" fill="#00ff7f"/><rect x="1398" y="129" width="1" height="14" fill="#ff0000"/><rect x="1396" y="131" width="5" height="4" fill="#ff0000"/><rect x="1406" y="124" width="1" height="9" fill="#ff0000"/><rect x="1404" y="125" width="5" height="6" fill="#ff0000"/><rect x="1414" y="124" width="1" height="8" fill="#00ff7f"/><rect x="1412" y="125" width="5" height="6" fill="#00ff7f"/><rect x="1422" y="124" width="1" height="10" fill="#00ff7f"/><rect x="1420" y="130" width="5" height="3" fill="#00ff7f"/><rect x="1430" y="126" width="1" height="28" fill="#00ff7f"/><rect x="1428" y="132" width="5" height="17" fill="#00ff7f"/><rect x="1438" y="135" width="1" height="17" fill="#ff0000"/><rect x="1436" y="138" width="5" height="12" fill="#ff0000"/><rect x="1446" y="108" width="1" height="32" fill="#ff0000"/><rect x="1444" y="108" width="5" height="31" fill="#ff0000"/><rect x="1454" y="99" width="1" height="6" fill="#00ff7f"/><rect x="1452" y="100" width="5" height="5" fill="#00ff7f"/><rect x="1462" y="98" width="1" height="11" fill="#ff0000"/><rect x="1460" y="99" width="5" height="6" fill="#ff0000"/><rect x="1470" y="93" width="1" height="11" fill="#ff0000"/><rect x="1468" y="94" width="5" height="6" fill="#ff0000"/><rect x="1478" y="78" width="1" height="18" fill="#ff0000"/><rect x="1476" y="85" width="5" height="10" fill="#ff0000"/><rect x="1486" y="77" width="1" height="31" fill="#00ff7f"/><rect x="1484" y="85" width="5" height="10" fill="#00ff7f"/><rect x="1494" y="82" width="1" height="28" fill="#ff0000"/><rect x="1492" y="84" width="5" height="11" fill="#ff0000"/><rect x="1502" y="54" width="1" height="31" fill="#ff0000"/><rect x="1500" y="58" width="5" height="26" fill="#ff0000"/><rect x="1510" y="55" width="1" height="61" fill="#00ff7f"/><rect x="1508" y="59" width="5" height="51" fill="#00ff7f"/><rect x="1518" y="100" width="1" height="28" fill="#00ff7f"/><rect x="1516" y="110" width="5" height="18" fill="#00ff7f"/><rect x="1526" y="120" width="1" height="46" fill="#00ff7f"/><rect x="1524" y="126" width="5" height="25" fill="#00ff7f"/><rect x="1534" y="99" width="1" height="53" fill="#ff0000"/><rect x="1532" y="111" width="5" height="40" fill="#ff0000"/><rect x="1542" y="88" width="1" height="30" fill="#ff0000"/><rect x="1540" y="96" width="5" height="15" fill="#ff0000"/><rect x="1550" y="90" width="1" height="23" fill="#00ff7f"/><rect x="1548" y="95" width="5" height="15" fill="#00ff7f"/><rect x="1558" y="132" width="1" height="15" fill="#ff0000"/><rect x="1556" y="133" width="5" height="10" fill="#ff0000"/><rect x="1566" y="129" width="1" height="13" fill="#ff0000"/><rect x="1564" y="130" width="5" height="3" fill="#ff0000"/><rect x="1574" y="120" width="1" height="18" fill="#00ff7f"/><rect x="1572" y="129" width="5" height="5" fill="#00ff7f"/><rect x="1582" y="129" width="1" height="31" fill="#00ff7f"/><rect x="1580" y="132" width="5" height="15" fill="#00ff7f"/><rect x="1590" y="111" width="1" height="43" fill="#ff0000"/><rect x="1588" y="116" width="5" height="30" fill="#ff0000"/><rect x="1598" y="97" width="1" height="21" fill="#ff0000"/><rect x="1596" y="100" width="5" height="16" fill="#ff0000"/><rect x="1606" y="81" width="1" height="22" fill="#ff0000"/><rect x="1604" y="95" width="5" height="6" fill="#ff0000"/><rect x="1614" y="78" width="1" height="19" fill="#ff0000"/><rect x="1612" y="82" width="5" height="14" fill="#ff0000"/><rect x="1622" y="74" width="1" height="21" fill="#00ff7f"/><rect x="1620" y="81" width="5" height="9" fill="#00ff7f"/><rect x="1630" y="72" width="1" height="22" fill="#00ff7f"/><rect x="1628" y="88" width="5" height="4" fill="#00ff7f"/><rect x="1638" y="86" width="1" height="31" fill="#00ff7f"/><rect x="1636" y="92" width="5" height="5" fill="#00ff7f"/><rect x="1646" y="90" width="1" height="18" fill="#00ff7f"/><rect x="1644" y="96" width="5" height="7" fill="#00ff7f"/><rect x="1654" y="94" width="1" height="35" fill="#00ff7f"/><rect x="1652" y="101" width="5" height="14" fill="#00ff7f"/><rect x="1662" y="115" width="1" height="1" fill="#00ff00"/><rect x="1660" y="115" width="5" height="1" fill="#00ff00"/>
<polyline points="332.5,447.4 350.5,444.7 380.5,439.2 410.5,433.8 440.5,427.2 470.5,423.3 500.5,419.2 530.5,415.5 560.5,411.1 590.5,407 620.5,402.5 650.5,397.2 680.5,392.7 710.5,386.7 740.5,381.5 760.5,379.3 790.5,374.8 820.5,370 850.5,365.5 880.5,360.2 910.5,355 940.5,350.2 970.5,344.8 1000.5,339.2 1020.5,335.6 1050.5,331.2 1080.5,327.2 1110.5,321.5 1140.5,316.2 1170.5,310.7 1200.5,305.7 1230.5,300.2 1260.5,294.8 1280.5,290.8 1310.5,285.2 1340.5,279.2 1370.5,273.2 1400.5,267.7 1430.5,263.5 1460.5,257.8 1490.5,252.7 1520.5,248 1540.5,245.4 1559.5,242.9 1579.5,240.4 1598.5,237.7 1618.5,234.8 1638.5,231.6 1662,227.5" fill="none" stroke="#ff0000" stroke-width="1" />
<polyline points="6.3,384.6 17.8,382.3 27,380.6 40.9,379.4 50.1,378.2 58.2,377.1 81.2,375.9 92.8,374.8 104.3,373.6 121.6,372.5 133.1,370.7 150.4,369 162,367.3 179.3,365.6 192.5,364 210.5,359.5 225.5,355.7 240.5,352 255.5,348.7 270.5,346 285.5,342.7 300.5,339.7 315.4,337 330.4,334.7 345.4,331.7 360.4,329.5 375.4,327.7 390.4,325.7 405.4,323.9 420.4,322.3 430.5,322.6 458.4,322.6 459.7,321.6 481.3,321.6 483.8,322.6 499,322.6 499.7,324.5 514.3,324.5 515.5,325.5 529.5,325.5 530.8,324.5 546,324.5 547.3,323.5 570.1,323.5 570.7,322.6 610.7,322.6 611.3,321.6 633.5,320.7 634.8,319.7 650.5,319.7 674.5,317.3 714.5,317.3 716.5,318.5 722.5,318.5 731.5,319.5 747.5,320.3 771.5,321.5 795.5,322.3 826.5,322.4 833.5,320.9 844.5,319.2 855.5,317.9 867.5,316.4 878.5,314.1 889.5,310.7 900.5,308.5 912.5,306.2 923.5,301.1 934.5,294.3 940.5,292.2 950.5,288 955.5,284.9 970.5,279.3 980.5,276.6 990.5,272.1 1000.5,269.1 1012.5,264.8 1023.5,262.3 1038.5,257 1053.5,250.2 1068.5,246.4 1083.5,242.6 1090.5,240.7 1097.5,238.4 1106.5,235.8 1119.5,232.6 1131.5,228 1147.5,220.6 1164.5,214.1 1180.5,207 1196.5,200.2 1213.5,192.8 1229.5,186.3 1240.5,182.4 1250.5,178.6 1253.5,178 1265.5,173.6 1278.5,169.2 1290.5,166 1303.5,162.9 1315.5,157.9 1328.5,153.5 1341.5,149.3 1353.5,145.9 1366.5,143 1378.5,140.4 1391.5,139.1 1403.5,137.4 1416.5,135.5 1428.5,134 1441.5,132.3 1453.5,130.2 1466.5,128 1474.5,125.4 1486.5,122.5 1497.5,120.2 1506.5,117.6 1515.5,116.3 1530.5,116.3 1531.5,115.3 1537.5,115.3 1538.5,114.5 1545.5,114.5 1546.5,113.3 1600.5,113.2 1601.5,112.8 1618.5,111.8 1627.5,110.3 1642.5,110.3 1643.5,109.3 1662.5,109.3" fill="none" stroke="#ff00ff" stroke-width="1" />
<polyline points="6.3,350.6 14.3,348.3 27,345.4 43.2,344.2 65.1,344.2 69.7,346 83.5,348.3 92.8,349.8 104.3,351.7 110.1,353.4 121.6,354.6 133.1,356.3 138.9,358.1 145.8,359.8 156.2,361.5 179.3,360.9 190.8,359.2 195.5,359.2 216.5,355 225.5,352 240.5,346 255.5,340 270.5,332.5 285.5,325 300.5,318.7 315.4,311.5 330.4,305.2 345.4,299.5 360.4,294.2 375.4,291.2 390.4,288.2 405.4,286 420.4,284.2 427.9,283.3 430.5,282.9 438.1,285.8 445.7,289 453.3,292.1 462.2,294 468.6,296.6 474.9,299.4 481.3,302.3 487.6,307.4 494,312.4 500.3,316.9 506.6,320.7 513,325.1 519.3,330.8 526.9,335.3 534.6,337.4 542.2,339.1 551.1,343.5 557.4,347.3 563.7,349.2 570.1,350.5 576.4,353.7 582.8,356 589.1,358.8 595.5,361.9 598,362.6 614.5,361.5 620.9,360 627.2,358.1 633.5,355.6 639.9,352.4 646.2,349.2 650.5,347.6 666.5,337.4 677.5,330.4 686.5,323.3 696.5,319.8 706.5,316.8 722.5,313.3 728.5,311.7 737.5,310.2 745.5,308.2 756.5,305.7 764.5,303.4 770.5,302.4 778.5,301.4 784.5,300.2 792.5,299.4 823.5,299.2 838.5,294.3 855.5,287.5 873.5,279 889.5,271.7 906.5,263.8 920.5,257.5 929.5,251.3 940.5,243.4 946.5,240.4 955.5,233.6 967.5,226 978.5,221.1 991.5,213.5 1005.5,209.4 1015.5,208.7 1026.5,206.5 1037.5,205.4 1045.5,202 1053.5,198.4 1060.5,196.4 1070.5,194.4 1080.5,191.9 1090.5,187.2 1100.5,185.1 1106.5,184.3 1121.5,180.5 1131.5,176.9 1146.5,170.4 1152.5,168.8 1156.5,166.4 1166.5,162.4 1172.5,160.1 1176.5,158.4 1188.5,151.9 1196.5,148.3 1204.5,145.8 1221.5,140.4 1237.5,135.5 1252.5,130.8 1265.5,127.9 1278.5,123.9 1290.5,120.8 1303.5,117.6 1316.5,114.8 1328.5,112 1341.5,109.8 1353.5,107.8 1366.5,105.7 1378.5,105 1380.5,106.2 1418.5,106.3 1420.5,107.6 1427.5,108.4 1436.5,109.3 1466.5,109.3 1467.5,110.3 1474.5,110.4 1483.5,111.6 1495.5,111.6 1501.5,109.6 1512.5,109.2 1515.5,110.4 1517.5,111.5 1520.5,112.5 1523.5,113.3 1525.5,114.5 1537.5,114.5 1538.5,115.5 1578.5,115.5 1579.5,114.6 1586.5,114.6 1592.5,112.5 1596.5,111.5 1600.5,110.8 1608.5,108.4 1613.5,107.2 1625.5,107.2 1627.5,106.3 1642.5,106.3 1644.5,107.6 1650.5,107.6 1652.5,108.4 1657.5,108.4 1662.5,110.3" fill="none" stroke="#ffa500" stroke-width="1" />
<rect x="6" y="115" width="1675" height="1" fill="#778899"/>
<rect x="1660" y="115" width="5" height="1" fill="#00ff00"/>
<rect x="6" y="178" width="1675" height="2" fill="#4169e1"/>
<rect x="6" y="277" width="1675" height="2" fill="#4169e1"/>
<rect x="6" y="118" width="1675" height="2" fill="#00ff7f"/>
</g>
<g clip-path="url(#cd)" fill="#c0c0c0"><rect x="6" y="500" width="1" height="55"/><rect x="14" y="508" width="1" height="47"/><rect x="22" y="515" width="1" height="40"/><rect x="30" y="522" width="1" height="33"/><rect x="38" y="527" width="1" height="28"/><rect x="46" y="528" width="1" height="27"/><rect x="54" y="537" width="1" height="18"/><rect x="62" y="545" width="1" height="10"/><rect x="70" y="551" width="1" height="4"/><rect x="78" y="554" width="1" height="1"/><rect x="86" y="554" width="1" height="1"/><rect x="94" y="555" width="1" height="5"/><rect x="102" y="555" width="1" height="5"/><rect x="110" y="555" width="1" height="8"/><rect x="118" y="555" width="1" height="7"/><rect x="126" y="555" width="1" height="7"/><rect x="134" y="555" width="1" height="5"/><rect x="142" y="555" width="1" height="7"/><rect x="150" y="555" width="1" height="5"/><rect x="158" y="555" width="1" height="1"/><rect x="166" y="551" width="1" height="4"/><rect x="174" y="545" width="1" height="10"/><rect x="182" y="541" width="1" height="14"/><rect x="190" y="539" width="1" height="16"/><rect x="198" y="531" width="1" height="24"/><rect x="206" y="525" width="1" height="30"/><rect x="214" y="519" width="1" height="36"/><rect x="222" y="513" width="1" height="42"/><rect x="230" y="510" width="1" height="45"/><rect x="238" y="508" width="1" height="47"/><rect x="246" y="505" width="1" height="50"/><rect x="254" y="503" width="1" height="52"/><rect x="262" y="498" width="1" height="57"/><rect x="270" y="494" width="1" height="61"/><rect x="278" y="490" width="1" height="65"/><rect x="286" y="488" width="1" height="67"/><rect x="294" y="488" width="1" height="67"/><rect x="302" y="485" width="1" height="70"/><rect x="310" y="488" width="1" height="67"/><rect x="318" y="490" width="1" height="65"/><rect x="326" y="493" width="1" height="62"/><rect x="334" y="494" width="1" height="61"/><rect x="342" y="495" width="1" height="60"/><rect x="350" y="496" width="1" height="59"/><rect x="358" y="497" width="1" height="58"/><rect x="366" y="502" width="1" height="53"/><rect x="374" y="506" width="1" height="49"/><rect x="382" y="509" width="1" height="46"/><rect x="390" y="512" width="1" height="43"/><rect x="398" y="516" width="1" height="39"/><rect x="406" y="518" width="1" height="37"/><rect x="414" y="516" width="1" height="39"/><rect x="422" y="517" width="1" height="38"/><rect x="430" y="519" width="1" height="36"/><rect x="438" y="542" width="1" height="13"/><rect x="446" y="554" width="1" height="1"/><rect x="454" y="555" width="1" height="14"/><rect x="462" y="555" width="1" height="22"/><rect x="470" y="555" width="1" height="29"/><rect x="478" y="555" width="1" height="41"/><rect x="486" y="555" width="1" height="65"/><rect x="494" y="555" width="1" height="80"/><rect x="502" y="555" width="1" height="86"/><rect x="510" y="555" width="1" height="89"/><rect x="518" y="555" width="1" height="98"/><rect x="526" y="555" width="1" height="89"/><rect x="534" y="555" width="1" height="76"/><rect x="542" y="555" width="1" height="63"/><rect x="550" y="555" width="1" height="58"/><rect x="558" y="555" width="1" height="53"/><rect x="566" y="555" width="1" height="43"/><rect x="574" y="555" width="1" height="33"/><rect x="582" y="555" width="1" height="31"/><rect x="590" y="555" width="1" height="28"/><rect x="598" y="555" width="1" height="22"/><rect x="606" y="555" width="1" height="15"/><rect x="614" y="555" width="1" height="9"/><rect x="622" y="555" width="1" height="2"/><rect x="630" y="541" width="1" height="14"/><rect x="638" y="527" width="1" height="28"/><rect x="646" y="517" width="1" height="38"/><rect x="654" y="510" width="1" height="45"/><rect x="662" y="508" width="1" height="47"/><rect x="670" y="505" width="1" height="50"/><rect x="678" y="505" width="1" height="50"/><rect x="686" y="502" width="1" height="53"/><rect x="694" y="504" width="1" height="51"/><rect x="702" y="510" width="1" height="45"/><rect x="710" y="513" width="1" height="42"/><rect x="718" y="516" width="1" height="39"/><rect x="726" y="526" width="1" height="29"/><rect x="734" y="526" width="1" height="29"/><rect x="742" y="528" width="1" height="27"/><rect x="750" y="531" width="1" height="24"/><rect x="758" y="534" width="1" height="21"/><rect x="766" y="536" width="1" height="19"/><rect x="774" y="537" width="1" height="18"/><rect x="782" y="538" width="1" height="17"/><rect x="790" y="535" width="1" height="20"/><rect x="798" y="531" width="1" height="24"/><rect x="806" y="528" width="1" height="27"/><rect x="814" y="527" width="1" height="28"/><rect x="822" y="525" width="1" height="30"/><rect x="830" y="511" width="1" height="44"/><rect x="838" y="503" width="1" height="52"/><rect x="846" y="489" width="1" height="66"/><rect x="854" y="479" width="1" height="76"/><rect x="862" y="471" width="1" height="84"/><rect x="870" y="466" width="1" height="89"/><rect x="878" y="474" width="1" height="81"/><rect x="886" y="476" width="1" height="79"/><rect x="894" y="478" width="1" height="77"/><rect x="902" y="478" width="1" height="77"/><rect x="910" y="476" width="1" height="79"/><rect x="918" y="476" width="1" height="79"/><rect x="926" y="475" width="1" height="80"/><rect x="934" y="468" width="1" height="87"/><rect x="942" y="464" width="1" height="91"/><rect x="950" y="464" width="1" height="91"/><rect x="958" y="463" width="1" height="92"/><rect x="966" y="462" width="1" height="93"/><rect x="974" y="465" width="1" height="90"/><rect x="982" y="467" width="1" height="88"/><rect x="990" y="469" width="1" height="86"/><rect x="998" y="474" width="1" height="81"/><rect x="1006" y="479" width="1" height="76"/><rect x="1014" y="485" width="1" height="70"/><rect x="1022" y="488" width="1" height="67"/><rect x="1030" y="489" width="1" height="66"/><rect x="1038" y="490" width="1" height="65"/><rect x="1046" y="491" width="1" height="64"/><rect x="1054" y="493" width="1" height="62"/><rect x="1062" y="494" width="1" height="61"/><rect x="1070" y="496" width="1" height="59"/><rect x="1078" y="496" width="1" height="59"/><rect x="1086" y="493" width="1" height="62"/><rect x="1094" y="489" width="1" height="66"/><rect x="1102" y="488" width="1" height="67"/><rect x="1110" y="488" width="1" height="67"/><rect x="1118" y="488" width="1" height="67"/><rect x="1126" y="482" width="1" height="73"/><rect x="1134" y="475" width="1" height="80"/><rect x="1142" y="473" width="1" height="82"/><rect x="1150" y="470" width="1" height="85"/><rect x="1158" y="469" width="1" height="86"/><rect x="1166" y="470" width="1" height="85"/><rect x="1174" y="470" width="1" height="85"/><rect x="1182" y="471" width="1" height="84"/><rect x="1190" y="472" width="1" height="83"/><rect x="1198" y="476" width="1" height="79"/><rect x="1206" y="480" width="1" height="75"/><rect x="1214" y="483" width="1" height="72"/><rect x="1222" y="486" width="1" height="69"/><rect x="1230" y="491" width="1" height="64"/><rect x="1238" y="496" width="1" height="59"/><rect x="1246" y="499" width="1" height="56"/><rect x="1254" y="501" width="1" height="54"/><rect x="1262" y="503" width="1" height="52"/><rect x="1270" y="505" width="1" height="50"/><rect x="1278" y="504" width="1" height="51"/><rect x="1286" y="504" width="1" height="51"/><rect x="1294" y="500" width="1" height="55"/><rect x="1302" y="494" width="1" height="61"/><rect x="1310" y="490" width="1" height="65"/><rect x="1318" y="486" width="1" height="69"/><rect x="1326" y="488" width="1" height="67"/><rect x="1334" y="490" width="1" height="65"/><rect x="1342" y="497" width="1" height="58"/><rect x="1350" y="501" width="1" height="54"/><rect x="1358" y="503" width="1" height="52"/><rect x="1366" y="507" width="1" height="48"/><rect x="1374" y="511" width="1" height="44"/><rect x="1382" y="524" width="1" height="31"/><rect x="1390" y="535" width="1" height="20"/><rect x="1398" y="543" width="1" height="12"/><rect x="1406" y="548" width="1" height="7"/><rect x="1414" y="553" width="1" height="2"/><rect x="1422" y="555" width="1" height="2"/><rect x="1430" y="555" width="1" height="10"/><rect x="1438" y="555" width="1" height="14"/><rect x="1446" y="555" width="1" height="7"/><rect x="1454" y="555" width="1" height="1"/><rect x="1462" y="551" width="1" height="4"/><rect x="1470" y="545" width="1" height="10"/><rect x="1478" y="537" width="1" height="18"/><rect x="1486" y="534" width="1" height="21"/><rect x="1494" y="529" width="1" height="26"/><rect x="1502" y="518" width="1" height="37"/><rect x="1510" y="525" width="1" height="30"/><rect x="1518" y="535" width="1" height="20"/><rect x="1526" y="551" width="1" height="4"/><rect x="1534" y="551" width="1" height="4"/><rect x="1542" y="547" width="1" height="8"/><rect x="1550" y="548" width="1" height="7"/><rect x="1558" y="554" width="1" height="1"/><rect x="1566" y="555" width="1" height="5"/><rect x="1574" y="555" width="1" height="10"/><rect x="1582" y="555" width="1" height="17"/><rect x="1590" y="555" width="1" height="14"/><rect x="1598" y="555" width="1" height="7"/><rect x="1606" y="554" width="1" height="1"/><rect x="1614" y="546" width="1" height="9"/><rect x="1622" y="541" width="1" height="14"/><rect x="1630" y="538" width="1" height="17"/><rect x="1638" y="537" width="1" height="18"/><rect x="1646" y="538" width="1" height="17"/><rect x="1654" y="543" width="1" height="12"/><rect x="1662" y="546" width="1" height="9"/></g>
<g clip-path="url(#cd)"><polyline points="6.5,491.4 13.1,492.6 19.4,494.9 25.7,497.7 31.9,500.6 38.2,503.7 44.5,506.7 50.8,510.3 57.1,514 63.4,519.1 69.7,523.5 76,528.5 82.3,532.6 88.6,536 94.8,540.4 101.1,544 107.4,547 113.7,551.1 120,555.3 126.3,556.8 132.6,558.7 138.9,560.3 145.2,560.6 151.4,561.2 157.7,561.2 164,560 170.3,558.7 176.6,557.4 182.9,555.3 189.2,553.3 195.5,551.1 198.4,549.2 206.6,545.5 211.6,542.3 217.9,537.9 224.2,533.5 230.5,530.1 236.8,526.6 243,522.8 248.1,519.3 254.4,516.5 260.7,512.8 266.9,509.2 272,506.5 279.5,503 284.5,501.4 289.6,499.6 295.9,497 302.2,494.2 308.5,492.6 313.5,491.1 319.8,490.4 326.1,489.5 334.9,489.5 344.9,489.5 351.2,490.4 357.5,491.4 363.8,491.6 368.8,492.6 373.9,495.2 380.1,496.4 386.5,498.3 392.7,500.2 399.2,502.4 409.9,506 418.4,507.1 427,510.3 435.6,514.6 446.3,521 452.7,525.3 461.2,533.9 469.8,541.3 478.3,552 486.9,563.8 495.5,577.7 504,590.5 512.6,603.4 521.1,615.1 529.7,624.3 538.2,630.1 548.9,633.3 555.3,632.9 563.9,630.1 572.5,624.8 581,618.3 583.8,614.3 596.9,602 608.3,591.7 621.4,582.4 632.8,572.6 645.9,560.3 655.7,548.1 668.8,535.8 681.9,522.7 693.3,512.9 704.8,508 716.2,507.2 724.4,508.8 734.2,510.9 744,513.2 752.2,516.2 760.4,520.3 768.6,524.7 776.7,527.3 780.4,527.9 785.7,530.3 793.6,531.4 801.6,532.3 812.1,532.3 817.4,532.3 824,531 830.6,529.2 837.2,526.3 843.8,521.7 851.8,515.1 858.4,509.4 865,504.5 871.6,498.6 878.2,494 884.8,489.3 891.4,484.7 896.7,481.4 903.3,478.1 909.9,476.1 916.5,474.6 924.4,473.5 944.2,473.5 950.8,472.4 957.4,470.9 964,469.8 966.5,469.3 973.7,467.2 980.4,466.2 987,465.6 998.8,465.3 1004.1,466.6 1010.7,468.5 1017.3,469.5 1022.6,471.5 1029.2,473.5 1035.8,475.5 1041.1,477.7 1046.4,480.4 1053,482.5 1058.3,484.3 1064.9,486.4 1070.2,488.3 1076.8,489.6 1083.4,490.7 1090,491.3 1116.4,491.3 1123,490.4 1129.6,488.3 1136.2,487 1142.8,485.4 1149.4,483.4 1156,481.2 1158.5,479.4 1165.7,477.5 1172.4,476.1 1177.6,474.6 1184.2,473.5 1190.8,472.2 1196.1,471.5 1202.7,471.5 1209.3,472.4 1214.6,473.5 1219.9,474.6 1226.5,475.5 1231.8,477.7 1238.4,480.4 1245,482.5 1250.3,484.3 1256.9,486.7 1262.2,489.6 1268.8,492.3 1275.4,494.4 1280.7,495.7 1287.3,497.9 1292.6,499.3 1309.7,499.6 1315,498.6 1321.6,497 1328.2,496.2 1334.8,495.3 1341.4,494.4 1346.7,493.6 1350.5,493.5 1361.7,493.5 1368.3,494.4 1374.9,496.4 1381.5,499.7 1388.1,503.7 1394.7,508.3 1401.3,512.9 1407.9,517.8 1414.6,522.8 1421.2,528.1 1427.8,535 1434.4,540.7 1441,546.4 1447.6,550.8 1454.2,554.3 1460.8,555.6 1467.4,556.5 1474,556.5 1480.6,555.2 1487.2,552.6 1493.8,549.3 1500.4,545.6 1507.3,541.5 1514.1,538.1 1519.7,536.2 1528.8,535.5 1544.7,535.5 1550.3,537.3 1556,538.5 1561.6,540.7 1568.4,544.3 1574.1,547.7 1579.7,551.7 1586.5,555.1 1592.2,557.7 1597.9,558.5 1604.7,559.3 1613.7,559.3 1621.6,558.5 1627.3,557.4 1634.1,554.8 1640.9,552.8 1646.5,550.6 1652.2,548.6 1659,545.5 1662.5,544.5" fill="none" stroke="#ff0000" stroke-width="1" stroke-dasharray="3,3"/></g>
<g clip-path="url(#cr)">
<line x1="6" y1="697.5" x2="1681" y2="697.5" stroke="#c0c0c0" stroke-dasharray="3,3"/>
<line x1="6" y1="739.5" x2="1681" y2="739.5" stroke="#c0c0c0" stroke-dasharray="3,3"/>
<polyline points="6.5,710.2 14.5,717.1 22.5,717.1 30.5,718.3 38.5,718.3 46.5,713.4 54.5,723.3 62.5,725.6 70.5,724.4 78.5,724.4 86.5,719.8 94.5,725.6 102.5,719.4 110.5,723.6 118.5,718.3 126.5,719.4 134.5,717.1 142.5,721.3 150.5,717.5 158.5,714 166.5,709.4 174.5,709.4 182.5,709.4 190.5,710.6 198.5,702.3 206.5,702.1 214.5,700.5 222.5,699.4 230.5,699.4 238.5,702.5 246.5,698.5 254.5,698.2 262.5,694.4 270.5,693.3 278.5,692.1 286.5,692.1 294.5,695.2 302.5,691.3 310.5,703.6 318.5,702.5 326.5,703.6 334.5,700.5 342.5,700.5 350.5,699.4 358.5,698.2 366.5,708.3 374.5,710.6 382.5,706.5 390.5,706.5 398.5,713.4 406.5,709.4 414.5,701.3 422.5,707.1 430.5,710.2 438.5,738.2 446.5,730.5 454.5,735.6 462.5,728.4 470.5,729.6 478.5,735.1 486.5,744.6 494.5,739.4 502.5,733.6 510.5,733.3 518.5,737.4 526.5,723.3 534.5,719.4 542.5,718.3 550.5,722.4 558.5,721.3 566.5,717.1 574.5,715.2 582.5,721.3 590.5,720.4 598.5,717.1 606.5,715.2 614.5,714.4 622.5,713.2 630.5,704.2 638.5,703.3 646.5,704.2 654.5,704.2 662.5,708.3 670.5,706.3 678.5,709.4 686.5,705.4 694.5,711.1 702.5,715.5 710.5,714.4 718.5,714.4 726.5,723.6 734.5,713.4 742.5,715.5 750.5,717.1 758.5,717.1 766.5,717.1 774.5,715.5 782.5,716.7 790.5,710.6 798.5,709.4 806.5,708.3 814.5,709.4 822.5,709.4 830.5,695.2 838.5,701.3 846.5,694.4 854.5,696.1 862.5,695.2 870.5,696.4 878.5,711.4 886.5,708.6 894.5,707.5 902.5,705.1 910.5,702.5 918.5,703.6 926.5,702.1 934.5,696.4 942.5,699 950.5,701.3 958.5,699.4 966.5,698.4 974.5,703.3 982.5,702.5 990.5,701.3 998.5,706.1 1006.5,706.4 1014.5,708.4 1022.5,705.2 1030.5,703.3 1038.5,703.3 1046.5,701.5 1054.5,703.3 1062.5,702.5 1070.5,701.3 1078.5,700.4 1086.5,695.5 1094.5,692.5 1102.5,694 1110.5,697.1 1118.5,695.5 1126.5,689.1 1134.5,687.1 1142.5,692.3 1150.5,691.4 1158.5,691.4 1166.5,692.3 1174.5,690.2 1182.5,692.3 1190.5,694.4 1198.5,694.4 1206.5,697.5 1214.5,695.5 1222.5,695.5 1230.5,705.2 1238.5,703.3 1246.5,702.5 1254.5,699.5 1262.5,698.3 1270.5,698.3 1278.5,693.5 1286.5,695.5 1294.5,689.1 1302.5,685.6 1310.5,688.6 1318.5,685.6 1326.5,700.4 1334.5,700.4 1342.5,711.7 1350.5,708.1 1358.5,705.4 1366.5,708.8 1374.5,712.5 1382.5,727.3 1390.5,728.4 1398.5,726.4 1406.5,723.6 1414.5,725.2 1422.5,726.7 1430.5,733.3 1438.5,727.3 1446.5,713.4 1454.5,711.4 1462.5,709.4 1470.5,707.7 1478.5,704.5 1486.5,709.4 1494.5,705.1 1502.5,698.1 1510.5,719.2 1518.5,722.6 1526.5,729.4 1534.5,717.6 1542.5,714.4 1550.5,719.2 1558.5,723.3 1566.5,722.4 1574.5,723.6 1582.5,726.7 1590.5,717.5 1598.5,714.4 1606.5,713.4 1614.5,710.6 1622.5,712.5 1630.5,713.4 1638.5,714.4 1646.5,716.7 1654.5,720.4 1662.5,720.4" fill="none" stroke="#1e90ff" stroke-width="1" />
</g>
<polygon points="9,40 16,40 12.5,44" fill="#000" shape-rendering="auto"/>
</svg>
<div class="tb" style="left:33px;top:12px;font-size:12px;line-height:12px;color:#505050">A</div>
<div class="tb" style="left:134px;top:14px;">M1</div>
<div class="tb" style="left:162px;top:14px;">M5</div>
<div class="tb" style="left:188px;top:14px;">M15</div>
<div class="tb" style="left:216px;top:14px;">M30</div>
<div class="tb" style="left:247px;top:14px;">H1</div>
<div class="tb" style="left:274px;top:14px;">H4</div>
<div class="tb" style="left:303px;top:14px;">D1</div>
<div class="tb" style="left:330px;top:14px;">W1</div>
<div class="tb" style="left:356px;top:14px;">MN</div>
<div class="t n" style="left:21px;top:38px;">SP500-,H4  3232.250 3232.250 3232.250 3232.250</div>
<div class="t" style="left:10px;top:456px;letter-spacing:-0.2px">MACD(12,26,9) 1.1568 1.3304</div>
<div class="t" style="left:10px;top:671px;letter-spacing:-0.3px">RSI(14) 47.8848</div>
<div class="t n" style="left:1687px;top:45px;">3265.400</div>
<div class="t n" style="left:1687px;top:78px;">3248.900</div>
<div class="t n" style="left:1687px;top:144px;">3215.400</div>
<div class="t n" style="left:1687px;top:177px;">3198.900</div>
<div class="t n" style="left:1687px;top:210px;">3182.400</div>
<div class="t n" style="left:1687px;top:243px;">3165.400</div>
<div class="t n" style="left:1687px;top:276px;">3148.900</div>
<div class="t n" style="left:1687px;top:309px;">3132.400</div>
<div class="t n" style="left:1687px;top:342px;">3115.400</div>
<div class="t n" style="left:1687px;top:375px;">3098.900</div>
<div class="t n" style="left:1687px;top:408px;">3082.400</div>
<div class="t n" style="left:1687px;top:441px;">3065.900</div>
<div class="t n" style="left:1683px;top:110px;width:46px;height:11px;background:#000;color:#fff;padding:1px 0 0 4px">3232.250</div>
<div class="t n" style="left:1683px;top:113px;width:46px;height:11px;background:#00ff7f;color:#fff;padding:1px 0 0 4px">3230.000</div>
<div class="t n" style="left:1683px;top:173px;width:46px;height:11px;background:#4169e1;color:#fff;padding:1px 0 0 4px">3200.000</div>
<div class="t n" style="left:1683px;top:272px;width:46px;height:11px;background:#4169e1;color:#fff;padding:1px 0 0 4px">3150.000</div>
<div class="t n" style="left:1685px;top:454px;">14.1509</div>
<div class="t n" style="left:1685px;top:551px;">0.00</div>
<div class="t n" style="left:1685px;top:653px;">-15.019</div>
<div class="t n" style="left:1685px;top:669px;">100</div>
<div class="t n" style="left:1685px;top:694px;">70</div>
<div class="t n" style="left:1685px;top:736px;">30</div>
<div class="t n" style="left:1685px;top:760px;">0</div>
<div class="t" style="left:6px;top:776px;letter-spacing:-0.25px">19 Nov 2019</div>
<div class="t" style="left:70px;top:776px;letter-spacing:-0.25px">21 Nov 00:00</div>
<div class="t" style="left:134px;top:776px;letter-spacing:-0.25px">22 Nov 08:00</div>
<div class="t" style="left:198px;top:776px;letter-spacing:-0.25px">25 Nov 12:00</div>
<div class="t" style="left:262px;top:776px;letter-spacing:-0.25px">26 Nov 20:00</div>
<div class="t" style="left:326px;top:776px;letter-spacing:-0.25px">28 Nov 04:00</div>
<div class="t" style="left:390px;top:776px;letter-spacing:-0.25px">29 Nov 12:00</div>
<div class="t" style="left:454px;top:776px;letter-spacing:-0.25px">2 Dec 20:00</div>
<div class="t" style="left:518px;top:776px;letter-spacing:-0.25px">4 Dec 04:00</div>
<div class="t" style="left:582px;top:776px;letter-spacing:-0.25px">5 Dec 12:00</div>
<div class="t" style="left:646px;top:776px;letter-spacing:-0.25px">6 Dec 20:00</div>
<div class="t" style="left:710px;top:776px;letter-spacing:-0.25px">10 Dec 00:00</div>
<div class="t" style="left:774px;top:776px;letter-spacing:-0.25px">11 Dec 08:00</div>
<div class="t" style="left:838px;top:776px;letter-spacing:-0.25px">12 Dec 16:00</div>
<div class="t" style="left:902px;top:776px;letter-spacing:-0.25px">15 Dec 23:00</div>
<div class="t" style="left:966px;top:776px;letter-spacing:-0.25px">17 Dec 04:00</div>
<div class="t" style="left:1030px;top:776px;letter-spacing:-0.25px">18 Dec 12:00</div>
<div class="t" style="left:1094px;top:776px;letter-spacing:-0.25px">19 Dec 20:00</div>
<div class="t" style="left:1158px;top:776px;letter-spacing:-0.25px">23 Dec 00:00</div>
<div class="t" style="left:1222px;top:776px;letter-spacing:-0.25px">24 Dec 08:00</div>
<div class="t" style="left:1286px;top:776px;letter-spacing:-0.25px">26 Dec 16:00</div>
<div class="t" style="left:1350px;top:776px;letter-spacing:-0.25px">29 Dec 23:00</div>
<div class="t" style="left:1414px;top:776px;letter-spacing:-0.25px">31 Dec 04:00</div>
<div class="t" style="left:1478px;top:776px;letter-spacing:-0.25px">2 Jan 08:00</div>
<div class="t" style="left:1542px;top:776px;letter-spacing:-0.25px">3 Jan 16:00</div>
<div class="t" style="left:1606px;top:776px;letter-spacing:-0.25px">6 Jan 20:00</div>
<div style="position:absolute;left:1261px;top:358.5px;font-size:32.5px;line-height:40px;color:#ff0000;white-space:pre;font-family:'Liberation Sans','Noto Sans CJK SC',sans-serif">多空转折点<span style="font-size:34px;position:relative;top:-1.5px">3230</span></div>
</body></html>
